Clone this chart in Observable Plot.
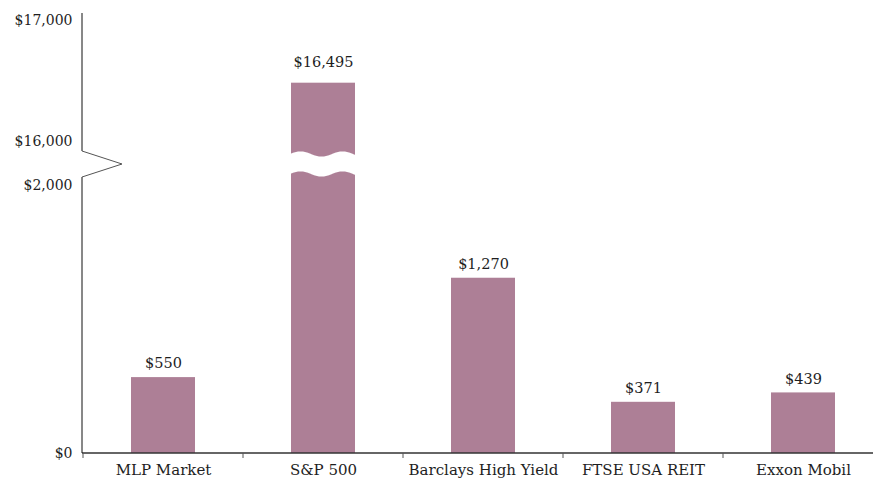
<!DOCTYPE html>
<html>
<head>
<meta charset="utf-8">
<script src="https://cdn.jsdelivr.net/npm/d3@7"></script>
<script src="https://cdn.jsdelivr.net/npm/@observablehq/plot@0.6"></script>
<style>
  html, body { margin: 0; padding: 0; background: #fff; }
  #chart svg { display: block; }
</style>
</head>
<body>
<div id="chart"></div>
<script>
const categories = ["MLP Market", "S&P 500", "Barclays High Yield", "FTSE USA REIT", "Exxon Mobil"];
const values = [550, 16495, 1270, 371, 439];
const valueLabels = ["$550", "$16,495", "$1,270", "$371", "$439"];
const yTicks = [0, 2000, 16000, 17000];
const yTickLabels = ["$0", "$2,000", "$16,000", "$17,000"];
const breakLow = 2000, breakHigh = 16000;
const brokenCategory = "S&P 500";

const data = categories.map((name, i) => ({name, value: values[i], label: valueLabels[i]}));
const ticks = yTicks.map((v, i) => ({v, label: yTickLabels[i]}));

const barColor = "#ad7f96";
const textColor = "#1e1e1e";

// label nudges so tick labels sit clear of the axis break
const tickDy = v => v === 17000 ? 7 : v === breakHigh ? -10 : v === breakLow ? 8 : 0;

const plot = Plot.plot({
  width: 873,
  height: 481,
  marginLeft: 82,
  marginRight: 0,
  marginTop: 13,
  marginBottom: 28,
  x: {domain: categories, range: [82, 884], paddingInner: 0.6, paddingOuter: 0.3, axis: null},
  y: {type: "linear", domain: [0, breakLow, breakHigh, 17000], range: [453, 177, 151, 13], axis: null},
  style: {fontFamily: "'DejaVu Serif', serif", fontSize: "14px", color: textColor, background: "#fff", overflow: "visible"},
  marks: [
    Plot.barY(data, {x: "name", y: "value", fill: barColor}),
    Plot.text(data.filter(d => d.name !== brokenCategory), {x: "name", y: "value", text: "label", dy: -14, fill: textColor, fontSize: 14.5}),
    Plot.text(data.filter(d => d.name === brokenCategory), {x: "name", y: "value", text: "label", dy: -21, fill: textColor, fontSize: 14.5}),
    Plot.text(categories, {x: d => d, y: () => 0, dy: 17, text: d => d, fill: textColor, fontSize: 15}),
    ...ticks.map(t => Plot.text([t], {y: "v", text: "label", frameAnchor: "left", dx: -10, dy: tickDy(t.v), textAnchor: "end", fill: textColor}))
  ]
});

document.getElementById("chart").appendChild(plot);

// decorations computed from the Plot scales
const xs = plot.scale("x");
const ys = plot.scale("y");
const svg = d3.select(plot);
const step = xs.step, bw = xs.bandwidth;
const gap = (step - bw) / 2;
const left = xs.range[0];

// broken bar wave gap
const bx0 = xs.apply(brokenCategory) - 1, bx1 = bx0 + bw + 2;
const yHi = ys.apply(breakHigh), yLo = ys.apply(breakLow);
const c = (yHi + yLo) / 2, half = (yLo - yHi) / 2 - 3;
const wave = (off) => d3.range(bx0, bx1 + 0.5, 1).map(x => [x, c + off + 2.6 * Math.sin(2 * Math.PI * (x - bx0) / 42 + Math.PI)]);
const upper = wave(-half), lower = wave(half).reverse();
svg.append("path")
  .attr("d", d3.line()(upper.concat(lower)) + "Z")
  .attr("fill", "#fff");

// bottom axis
const y0 = ys.apply(0);
svg.append("line").attr("x1", left).attr("x2", 873).attr("y1", y0).attr("y2", y0)
  .attr("stroke", "#333").attr("stroke-width", 1.5);
categories.forEach((cat) => {
  const xb = xs.apply(cat) - gap;
  svg.append("line").attr("x1", xb).attr("x2", xb).attr("y1", y0).attr("y2", y0 + 5)
    .attr("stroke", "#555").attr("stroke-width", 1);
});

// left axis with break
svg.append("line").attr("x1", left).attr("x2", left).attr("y1", ys.apply(17000)).attr("y2", yHi)
  .attr("stroke", "#111").attr("stroke-width", 1);
svg.append("line").attr("x1", left).attr("x2", left).attr("y1", yLo).attr("y2", y0)
  .attr("stroke", "#111").attr("stroke-width", 1);
svg.append("path")
  .attr("d", d3.line()([[left, yHi], [left + 40, (yHi + yLo) / 2], [left, yLo]]))
  .attr("fill", "none").attr("stroke", "#555").attr("stroke-width", 1);
</script>
</body>
</html>
